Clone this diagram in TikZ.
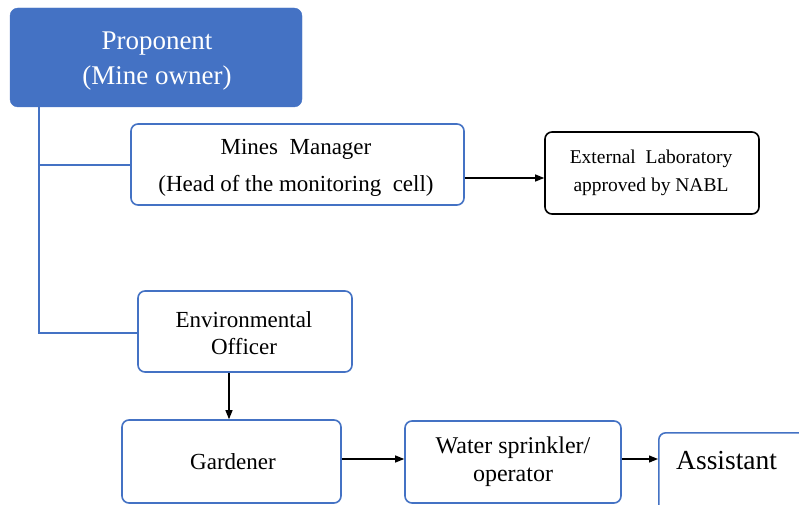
\documentclass[tikz,border=0pt]{standalone}
\usepackage{fontspec}
\setmainfont{Liberation Serif}
\usetikzlibrary{arrows.meta}
\definecolor{boxblue}{HTML}{4472C4}
\tikzset{
  x=1pt,y=-1pt,
  bluebox/.style={draw=boxblue,line width=1.6pt,rounded corners=7pt,fill=white,align=center,inner sep=0pt},
  blackbox/.style={draw=black,line width=1.6pt,rounded corners=7pt,fill=white,align=center,inner sep=0pt},
  topbox/.style={draw=boxblue,fill=boxblue,rounded corners=8pt,align=center,text=white,inner sep=0pt},
  bluelink/.style={draw=boxblue,line width=2pt},
  arrowlink/.style={draw=black,line width=1.2pt,-{Triangle[length=9pt,width=7pt]}}
}
\begin{document}
\begin{tikzpicture}
\useasboundingbox (0,0) rectangle (799,505);
\clip (0,0) rectangle (799,505);
\node[topbox,minimum width=292pt,minimum height=99pt] (prop) at (156,57.5) {};
\node[align=center,text=white,inner sep=0pt,font=\fontsize{27}{35}\selectfont] (proptext) at (157,61)
  {Proponent\\(Mine owner)};
\node[bluebox,minimum width=333pt,minimum height=81pt] (mm) at (297.5,164.5) {};
\node[align=center,inner sep=0pt,font=\fontsize{23}{37}\selectfont] (mmtext) at (296,167.5)
  {Mines~ Manager\\(Head of the monitoring~ cell)};
\node[blackbox,minimum width=214pt,minimum height=82pt] (ext) at (652,173) {};
\node[align=center,inner sep=0pt,font=\fontsize{19.5}{28}\selectfont] (exttext) at (651,173)
  {External~ Laboratory\\approved by NABL};
\node[bluebox,minimum width=214pt,minimum height=81pt] (env) at (245,331.5) {};
\node[align=center,inner sep=0pt,font=\fontsize{23}{27}\selectfont] (envtext) at (244,333)
  {Environmental\\Officer};
\node[bluebox,minimum width=219pt,minimum height=83pt] (gar) at (231.5,461.5) {};
\node[inner sep=0pt,font=\fontsize{23}{26}\selectfont] (gartext) at (233,462) {Gardener};
\node[bluebox,minimum width=216pt,minimum height=82pt] (ws) at (513,462) {};
\node[align=center,inner sep=0pt,font=\fontsize{24}{28}\selectfont] (wstext) at (513,462)
  {Water sprinkler/\\operator};
\node[bluebox,minimum width=180pt,minimum height=84pt,anchor=north west] (as) at (658,432) {};
\node[anchor=west,inner sep=0pt,font=\fontsize{27.5}{30}\selectfont] (astext) at (676,461) {Assistant};
\coordinate (trunk) at (39,107);
\coordinate (j1) at (39,165);
\coordinate (j2) at (39,333);
\draw[bluelink] (trunk) -- (j2) -- (env.west |- j2);
\draw[bluelink] (j1) -- (mm.west |- j1);
\draw[arrowlink] (mm.east |- 0,178) -- (ext.west |- 0,178);
\draw[arrowlink] (env.south -| 229,0) -- (gar.north -| 229,0);
\draw[arrowlink] (gar.east |- 0,459) -- (ws.west |- 0,459);
\draw[arrowlink] (ws.east |- 0,459) -- (as.west |- 0,459);
\end{tikzpicture}
\end{document}
